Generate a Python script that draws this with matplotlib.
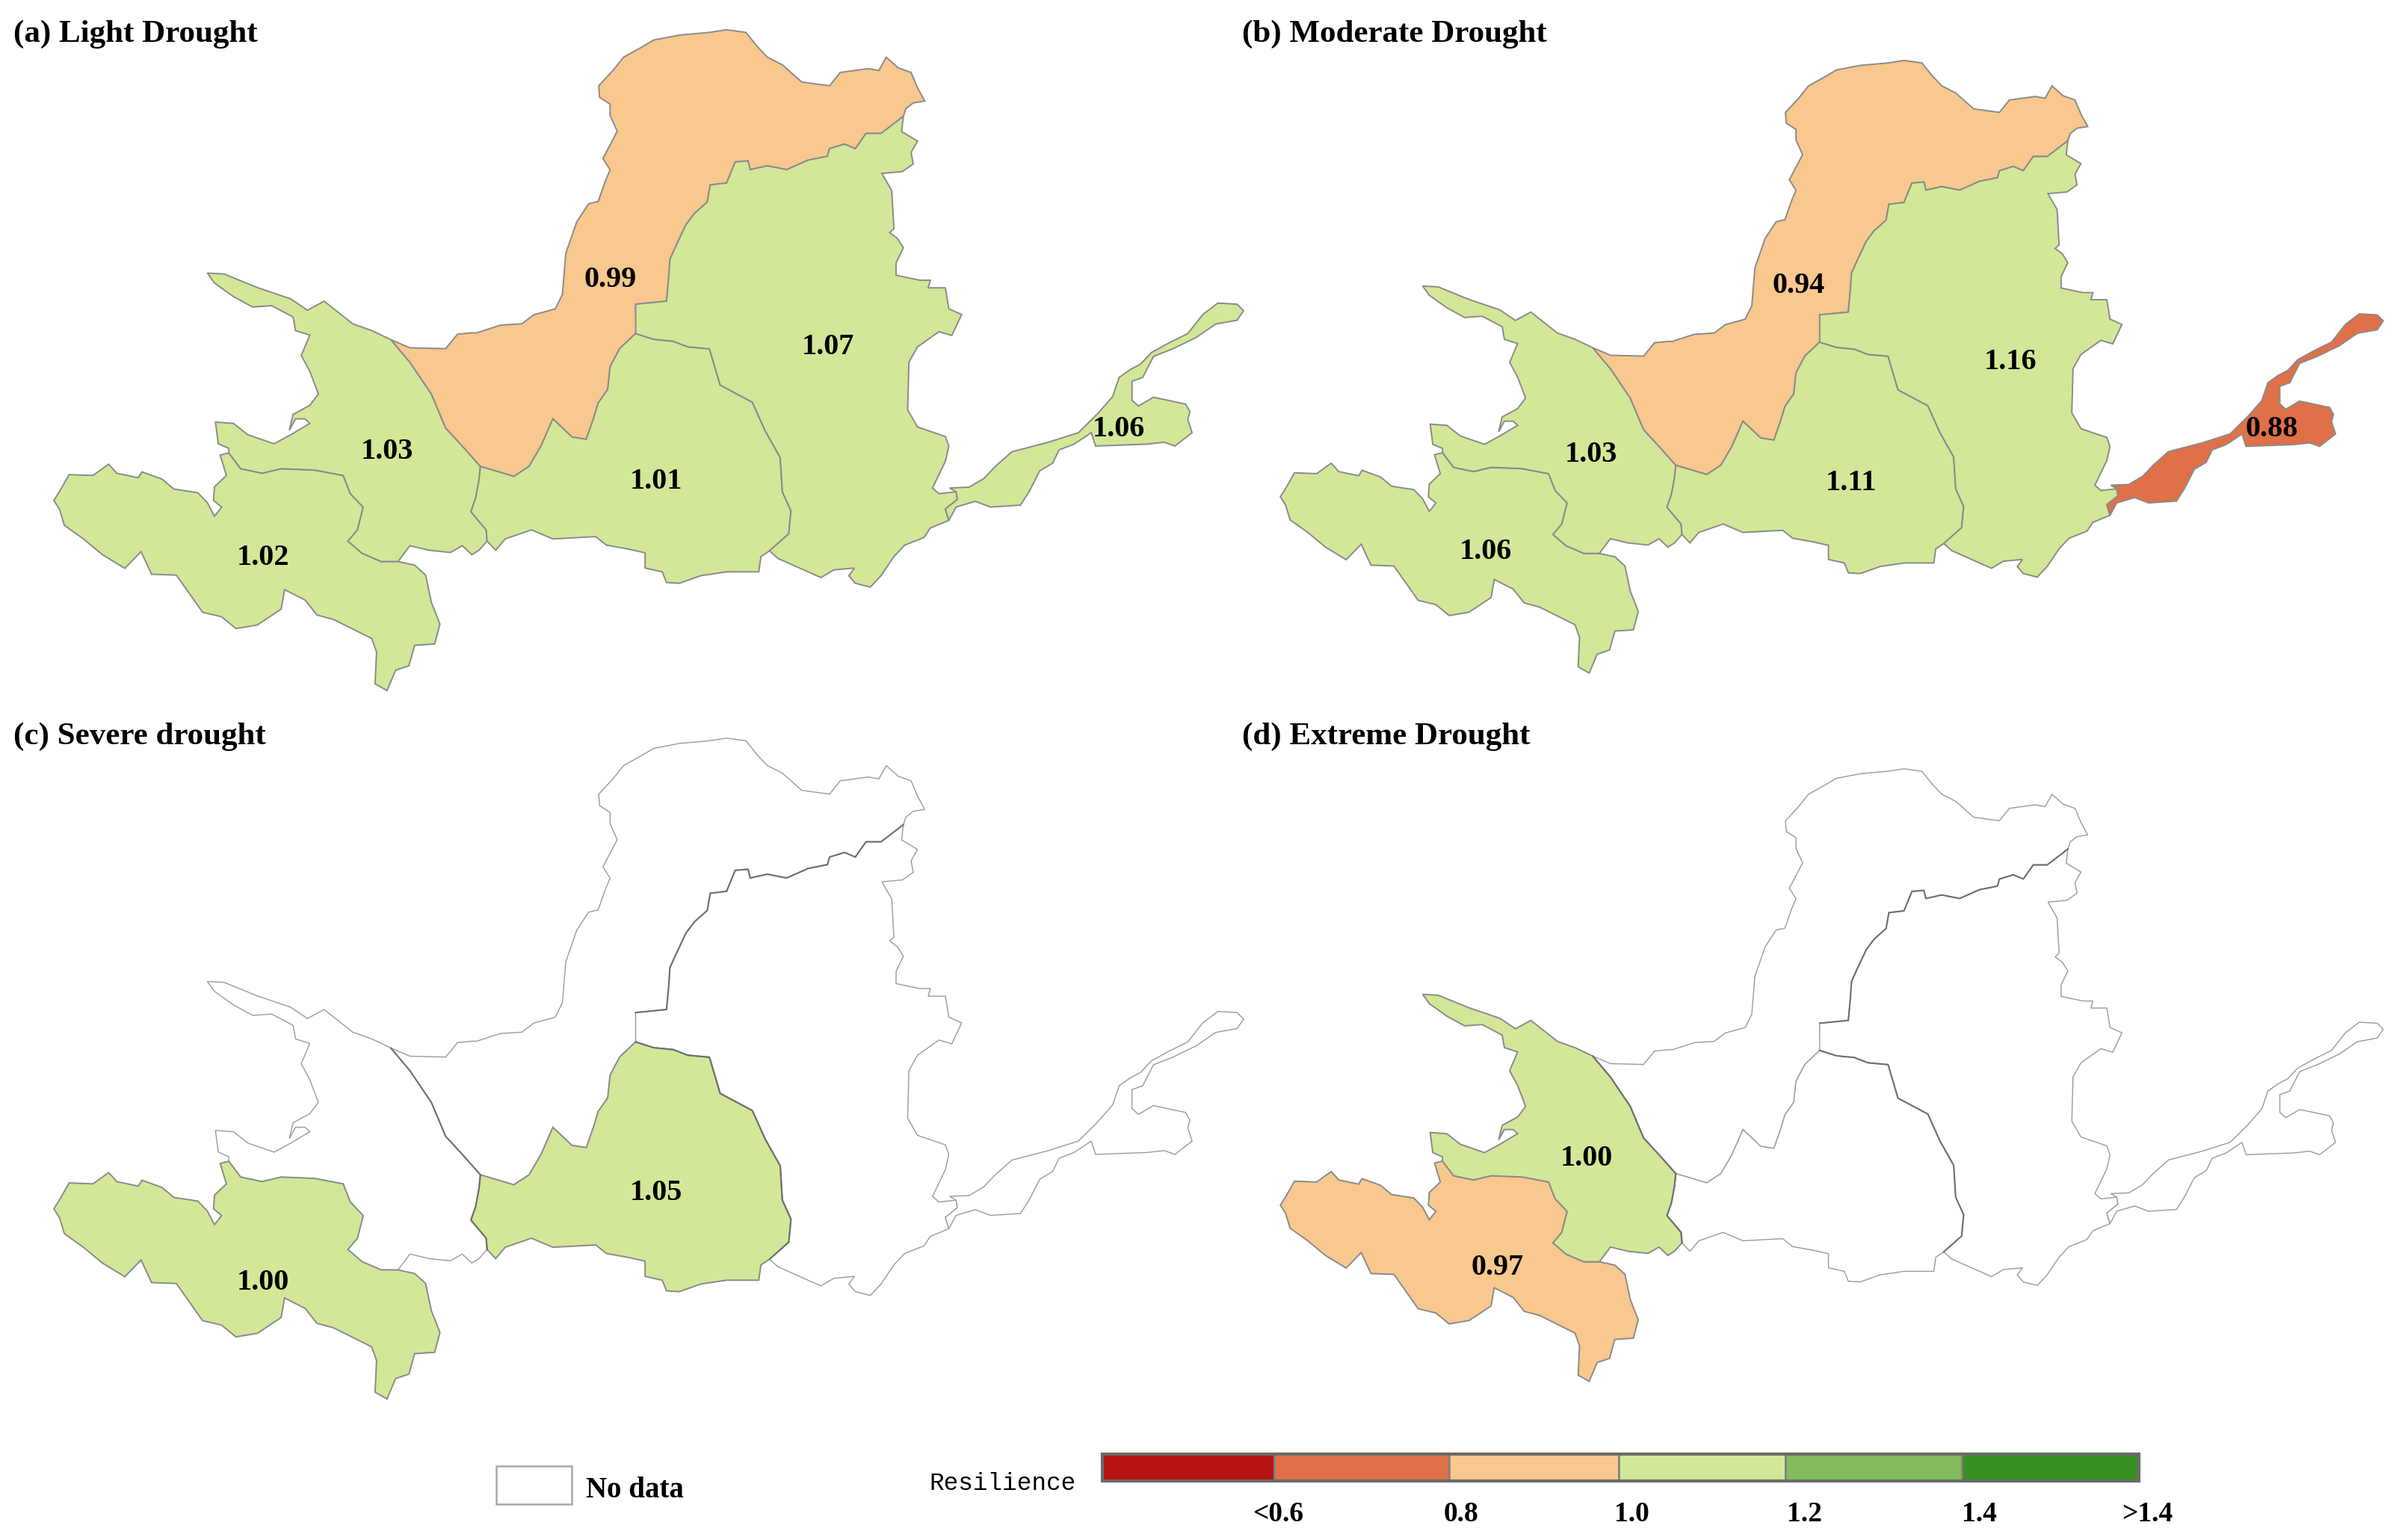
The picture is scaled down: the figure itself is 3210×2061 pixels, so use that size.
import numpy as np
from matplotlib import pyplot as plt
from matplotlib.patches import Rectangle

# outlines, "a" lists in the left crop scale, "b" lists in the right crop
border_12 = [(835,1240),(800,1240),(760,1222),(730,1195),(750,1170),(762,1120),(735,1090),(720,1050),(660,1038),(590,1035),(550,1045),(505,1035),(480,1000)]
r1_south = [(113,1105),(125,1125),(135,1160),(175,1190),(215,1225),(262,1255),(296,1218),(318,1268),(370,1270),(425,1352),(465,1362),(495,1388),(540,1380),(590,1345),(597,1302),(640,1325),(665,1358),(700,1368),(780,1410),(790,1440),(787,1510),(812,1525),(830,1480),(858,1470),(870,1425),(912,1422),(923,1378),(905,1330),(893,1270),(870,1248)]
r1_north = [(462,1005),(475,1050),(450,1075),(448,1105),(465,1120),(450,1140),(435,1110),(415,1088),(365,1080),(340,1058),(298,1042),(290,1055),(245,1045),(228,1025),(195,1050),(145,1048),(125,1085)]
r2_north = [(435,603),(470,605),(540,635),(610,660),(645,685),(680,665),(710,690),(740,715),(780,730)]
border_23 = [(820,750),(860,800),(905,870),(935,945),(970,985),(1008,1030)]
border_24 = [(1008,1030),(1005,1060),(998,1100),(988,1130),(1020,1170),(1022,1195)]
r2_south = [(1005,1215),(990,1225),(970,1205),(945,1220),(900,1215),(860,1205)]
r2_west = [(480,990),(458,980),(452,932),(490,935),(520,960),(575,980),(610,960),(650,935),(640,925),(620,925),(607,950),(615,915),(650,895),(668,870),(650,820),(632,785),(650,740),(620,730),(615,700),(570,675),(530,678),(490,655),(450,625)]
r3_west = [(860,768),(935,770),(960,738),(990,735),(1000,735),(1050,718),(1095,715),(1120,695),(1165,682),(1180,650),(1187,560),(1210,490),(1235,450),(1255,445),(1270,400),(1280,375),(1265,350),(1280,320),(1295,290),(1280,255),(1280,230),(1258,215)]
border_34 = [(1335,735),(1300,770),(1280,810),(1275,860),(1255,890),(1245,925),(1230,970),(1200,965),(1160,925),(1135,985),(1110,1030),(1078,1052),(1040,1040),(1008,1030)]
r4_south_a = [(1250,1185),(1160,1190),(1115,1170),(1060,1190),(1040,1215),(1022,1195)]
r3_top = [(2,225),(35,185),(60,150),(100,125),(130,105),(190,92),(260,85),(300,78),(345,85),(370,120),(395,150),(430,170),(475,215),(540,225),(565,190),(630,180),(655,185),(672,150),(700,178),(730,190),(745,230),(762,265),(735,270),(718,285)]
border_35 = [(712,305),(695,320),(660,350),(625,350),(600,390),(575,378),(540,390),(535,410),(490,420),(440,445),(395,435),(355,445),(350,422),(320,425),(300,480),(262,485),(255,530),(225,560),(205,590),(180,650),(168,680),(165,730),(160,790),(88,798)]
border_45 = [(88,875),(130,890),(175,895),(210,910),(260,915),(285,1010),(360,1055),(390,1130),(425,1200),(430,1290),(450,1340),(445,1400),(400,1445)]
r4_south_b = [(380,1460),(375,1500),(300,1500),(240,1510),(190,1530),(160,1528),(150,1500),(110,1490),(110,1450),(70,1440),(20,1430)]
r5_east = [(712,305),(708,345),(745,370),(730,400),(735,430),(710,450),(662,455),(685,500),(690,600),(680,610),(698,625),(712,650),(695,690),(695,722),(750,735),(775,735),(770,755),(810,755),(818,810),(848,825),(825,880),(795,870),(745,910),(725,950),(722,1075),(745,1120),(810,1145),(818,1170),(810,1210),(780,1280),(795,1295),(835,1290),(838,1310),(810,1335),(818,1365),(775,1385),(760,1410),(715,1430),(690,1460),(660,1510),(635,1540),(600,1530),(585,1510),(598,1490),(550,1495),(520,1515),(470,1490),(420,1465)]
r6_all = [(820,1280),(865,1278),(900,1255),(925,1225),(965,1185),(1050,1160),(1120,1135),(1165,1085),(1200,1040),(1215,990),(1240,970),(1265,955),(1290,925),(1330,900),(1375,875),(1410,825),(1445,795),(1490,798),(1505,815),(1490,840),(1440,850),(1395,885),(1340,915),(1295,935),(1270,990),(1245,1000),(1245,1050),(1260,1065),(1295,1042),(1370,1060),(1380,1080),(1375,1100),(1385,1135),(1345,1170),(1320,1160),(1280,1165),(1160,1170),(1150,1135),(1110,1165),(1075,1180),(1060,1215),(1030,1235),(1005,1290),(985,1325),(915,1330),(880,1315),(835,1330),(818,1365),(810,1335),(838,1310),(835,1290)]

titles = ["(a) Light Drought", "(b) Moderate Drought", "(c) Severe drought", "(d) Extreme Drought"]
title_x = [18, 1662, 18, 1662]
title_y = [46, 46, 986, 986]

# which class colour each of the six basins gets per panel, None = no data
panel_fill = [
    [3, 3, 2, 3, 3, 3],
    [3, 3, 2, 3, 3, 1],
    [3, None, None, 3, None, None],
    [2, 3, None, None, None, None],
]
value_labels = [
    [("1.02",352,747),("1.03",518,604),("0.99",817,375),("1.01",878,645),("1.07",1108,465),("1.06",1497,575)],
    [("1.06",1988,739),("1.03",2129,608),("0.94",2407,383),("1.11",2477,647),("1.16",2690,485),("0.88",3040,575)],
    [("1.00",352,1716),("1.05",878,1597)],
    [("0.97",2004,1697),("1.00",2123,1550)],
]

class_colours = ["#B91414", "#E07048", "#F8C88E", "#D2E898", "#82BC5C", "#389022"]
class_edges = [1475, 1705, 1939, 2166, 2389, 2625, 2862]
class_labels = ["<0.6", "0.8", "1.0", "1.2", "1.4", ">1.4"]
class_label_x = [1710, 1955, 2183, 2414, 2648, 2873]


def from_a(pts):
    p = np.array(pts, dtype=float)
    return np.column_stack([p[:, 0] / 1.568, p[:, 1] / 1.65])


def from_b(pts):
    p = np.array(pts, dtype=float)
    return np.column_stack([800 + p[:, 0] / 1.742, p[:, 1] / 1.96])


shared_12 = from_a(border_12)
shared_23 = from_a(border_23)
shared_24 = from_a(border_24)
shared_34 = from_a(border_34)
shared_35 = from_b(border_35)
shared_45 = from_b(border_45)

basins = [
    np.vstack([from_a(r1_south), shared_12, from_a(r1_north)]),
    np.vstack([from_a(r2_north), shared_23, shared_24, from_a(r2_south), shared_12, from_a(r2_west)]),
    np.vstack([from_a(r3_west), from_b(r3_top), shared_35, shared_34, shared_23[::-1]]),
    np.vstack([shared_34[::-1], shared_45, from_b(r4_south_b), from_a(r4_south_a), shared_24[::-1]]),
    np.vstack([from_b(r5_east), shared_45[::-1], shared_35[::-1]]),
    from_b(r6_all),
]
# the inner borders come out darker where the map has no fill
dark_borders = [shared_23, shared_35, shared_45, shared_24]


def place(xy, panel):
    # b/d are the same map a bit smaller, c/d sit one row down
    x, y = xy[:, 0].copy(), xy[:, 1].copy()
    if panel in (1, 3):
        x = 1715 + (x - 74) * 0.927
        y = 82 + (y - 41) * 0.927
    if panel >= 2:
        y = y + 948
    return x, y


fig = plt.figure(figsize=(32.1, 20.61), dpi=100)
ax = fig.add_axes([0, 0, 1, 1])
ax.set_xlim(0, 3210)
ax.set_ylim(2061, 0)
ax.axis("off")

serif = "Liberation Serif"
for i in range(4):
    ax.text(title_x[i], title_y[i], titles[i], family=serif, weight="bold", fontsize=31, va="center", ha="left")
    # empty basins first so coloured ones sit on top
    order = sorted(range(6), key=lambda k: panel_fill[i][k] is not None)
    for k in order:
        x, y = place(basins[k], i)
        c = panel_fill[i][k]
        if c is None:
            ax.fill(x, y, facecolor="white", edgecolor="#9a9a9a", lw=1.0)
        else:
            ax.fill(x, y, facecolor=class_colours[c], edgecolor="#8a8a8a", lw=1.4)
    if i >= 2:
        for b in dark_borders:
            x, y = place(b, i)
            ax.plot(x, y, color="#707070", lw=1.5)
    for txt, lx, ly in value_labels[i]:
        ax.text(lx, ly, txt, family=serif, weight="bold", fontsize=29, ha="center", va="center")

# legend
ax.add_patch(Rectangle((664, 1962), 101, 51, facecolor="white", edgecolor="#a8a8a8", lw=1.8))
ax.text(784, 1994, "No data", family=serif, weight="bold", fontsize=28, va="center", ha="left")
ax.text(1243, 1986, "Resilience", family="Liberation Mono", fontsize=23.5, va="center", ha="left")
for i in range(6):
    ax.add_patch(Rectangle((class_edges[i], 1946), class_edges[i + 1] - class_edges[i], 36,
                           facecolor=class_colours[i], edgecolor="#808080", lw=1.8))
    ax.text(class_label_x[i], 2027, class_labels[i], family=serif, weight="bold", fontsize=27, ha="center", va="center")
ax.add_patch(Rectangle((class_edges[0], 1946), class_edges[-1] - class_edges[0], 36,
                       facecolor="none", edgecolor="#6a6a6a", lw=3))

fig.savefig("out.png", dpi=100, facecolor="white")
